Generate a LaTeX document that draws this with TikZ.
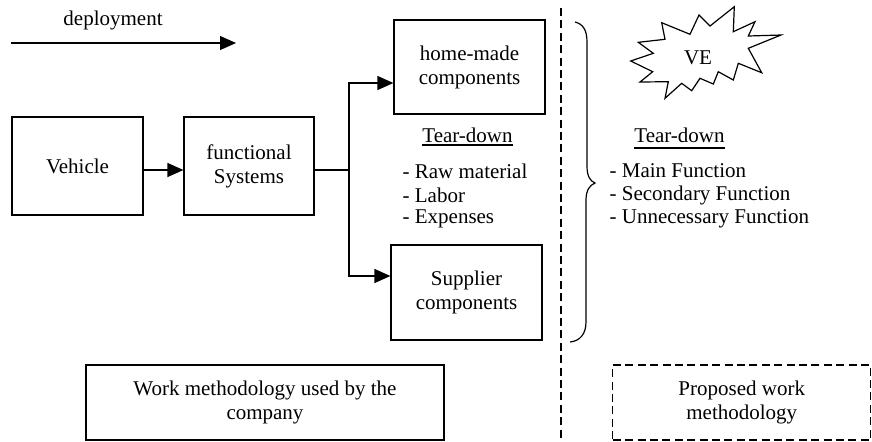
\documentclass[tikz,border=0pt]{standalone}
\usepackage{fontspec}
\setmainfont{Liberation Serif}
\usetikzlibrary{arrows.meta}
\begin{document}
\begin{tikzpicture}[x=0.5pt,y=-0.5pt,
  font=\fontsize{10.5}{12}\selectfont,
  line width=0.6pt,
  box/.style={draw, line width=0.6pt, align=center, inner sep=0pt},
  arr/.style={-{Triangle[length=8pt,width=7pt]}},
  dsh/.style={dash pattern=on 4pt off 2.2pt},
  txt/.style={inner sep=0pt, anchor=west}]
\useasboundingbox (0,0) rectangle (872,441);

% deployment arrow
\node[inner sep=0pt] (dep) at (113,20) {deployment};
\coordinate (d0) at (11,43);
\coordinate (d1) at (236,43);
\draw[arr] (d0) -- (d1);

% main boxes
\node[box, minimum width=65.5pt, minimum height=49pt] (veh) at (77.5,166) {Vehicle};
\node[box, minimum width=65pt, minimum height=49pt] (func) at (249,166) {functional\\Systems};
\node[box, minimum width=75.5pt, minimum height=47pt] (home) at (469.5,67) {home-made\\components};
\node[box, minimum width=75.5pt, minimum height=47.5pt] (sup) at (466.5,292.5) {Supplier\\components};

% connectors
\coordinate (split) at (349,170);
\draw[arr] (veh.east |- split) -- (func.west |- split);
\draw (func.east |- split) -- (split);
\coordinate (sTop) at (349,83);
\coordinate (sBot) at (349,276);
\draw[arr] (split) -- (sTop) -- (home.west |- sTop);
\draw[arr] (split) -- (sBot) -- (sup.west |- sBot);

% left tear-down
\node[inner sep=0pt] (tdl) at (467.5,135) {Tear-down};
\draw (tdl.south west |- 0,145) -- (tdl.south east |- 0,145);
\node[txt] (l1) at (402,171) {- Raw material};
\node[txt] (l2) at (402,195) {- Labor};
\node[txt] (l3) at (402,219) {- Expenses};

% dashed divider
\coordinate (v0) at (561,8);
\coordinate (v1) at (561,441);
\draw[dsh] (v0) -- (v1);

% brace
\coordinate (bTop) at (575,22);
\coordinate (bTip) at (595,183);
\coordinate (bBot) at (570,342);
\draw (bTop) .. controls (583,24) and (587,30) .. (587,42)
  -- (587,166) .. controls (587,176) and (590,181) .. (bTip)
  .. controls (590,185) and (586,190) .. (586,200)
  -- (586,322) .. controls (586,334) and (580,341) .. (bBot);

% VE starburst
\draw (630.7,61) -- (653.3,53.3) -- (638.3,42.3) -- (665,39.3) -- (661.7,22.7)
  -- (690,34.3) -- (699,15) -- (710,26) -- (734.3,6.7) -- (733.3,31.7)
  -- (755,21.7) -- (748.3,36) -- (781,35) -- (748.3,48.3) -- (761.7,72.7)
  -- (738.3,63.3) -- (733.3,80) -- (718.3,71.7) -- (713.3,84) -- (700,78.3)
  -- (691.7,90.7) -- (681.7,83.3) -- (665,98.3) -- (668.3,81.7) -- (640,82)
  -- (652.7,71.7) -- cycle;
\node[inner sep=0pt] (ve) at (698,58) {VE};

% right tear-down
\node[inner sep=0pt] (tdr) at (679.5,135) {Tear-down};
\draw (tdr.south west |- 0,148) -- (tdr.south east |- 0,148);
\node[txt] (r1) at (609,171) {- Main Function};
\node[txt] (r2) at (609,195) {- Secondary Function};
\node[txt] (r3) at (609,219) {- Unnecessary Function};

% bottom boxes
\node[box, minimum width=179pt, minimum height=37.5pt] (work) at (265,402.5) {Work methodology used by the\\company};
\node[box, dsh, minimum width=129pt, minimum height=37.5pt] (prop) at (741.75,402.5) {Proposed work\\methodology};
\end{tikzpicture}
\end{document}
